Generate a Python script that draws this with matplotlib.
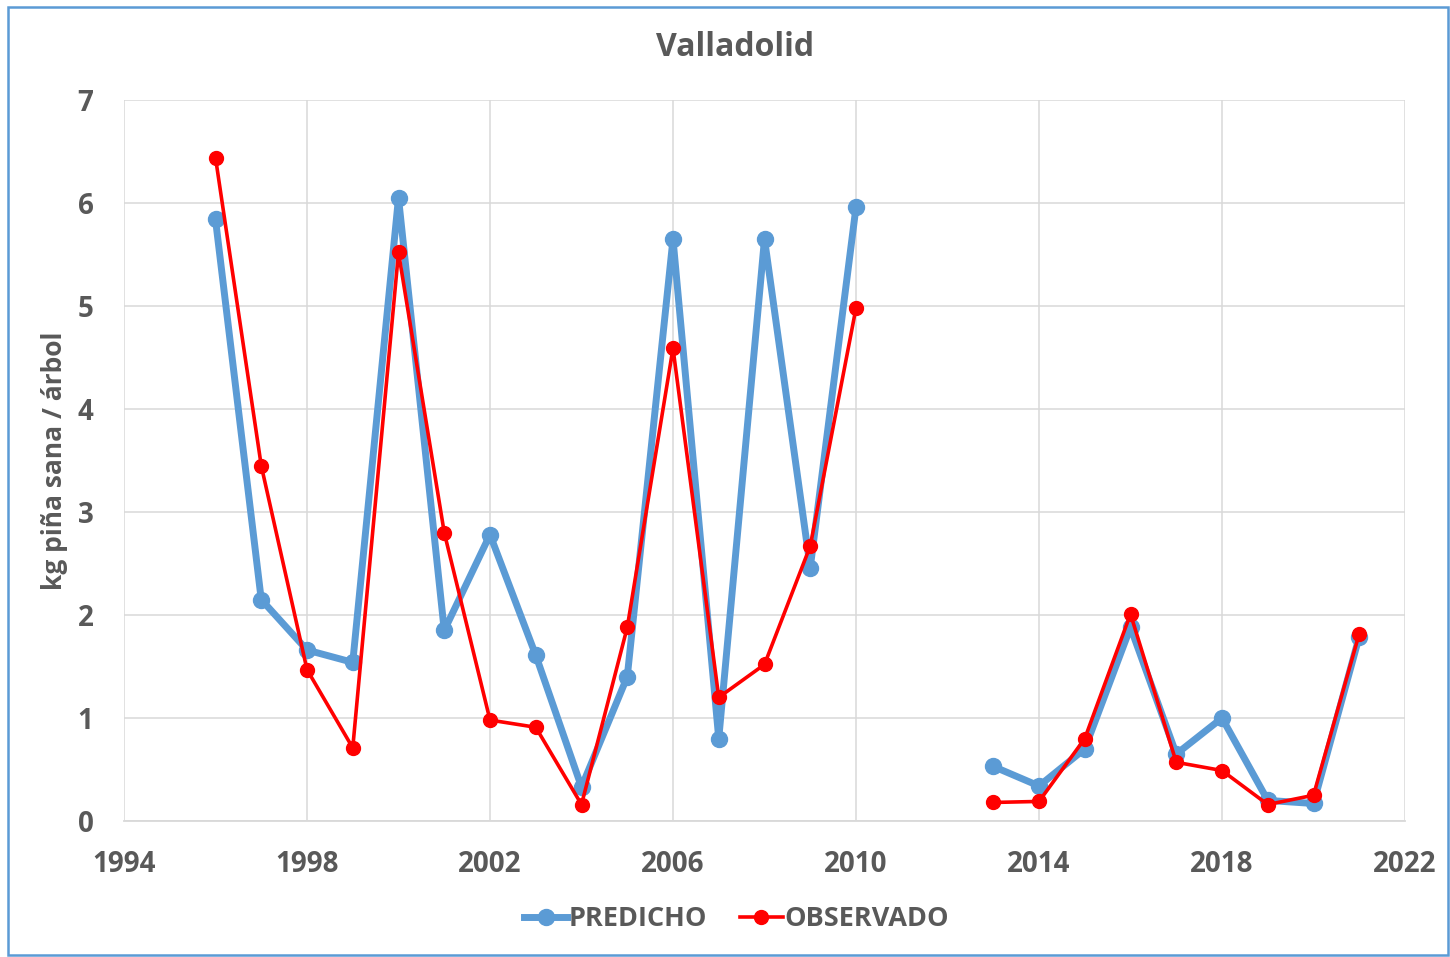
import numpy as np
import matplotlib
matplotlib.use("Agg")
import matplotlib.pyplot as plt
from matplotlib.patches import Rectangle

years = [1996, 1997, 1998, 1999, 2000, 2001, 2002, 2003, 2004, 2005, 2006, 2007, 2008, 2009, 2010,
         2011, 2012, 2013, 2014, 2015, 2016, 2017, 2018, 2019, 2020, 2021]
predicho = [5.84, 2.15, 1.66, 1.54, 6.05, 1.85, 2.78, 1.61, 0.33, 1.40, 5.65, 0.80, 5.65, 2.46, 5.96,
            np.nan, np.nan, 0.53, 0.34, 0.70, 1.88, 0.65, 1.00, 0.20, 0.17, 1.79]
observado = [6.44, 3.45, 1.47, 0.71, 5.52, 2.80, 0.98, 0.91, 0.16, 1.88, 4.59, 1.20, 1.52, 2.67, 4.98,
             np.nan, np.nan, 0.18, 0.19, 0.80, 2.01, 0.57, 0.49, 0.16, 0.25, 1.82]
xticks = [1994, 1998, 2002, 2006, 2010, 2014, 2018, 2022]
yticks = [0, 1, 2, 3, 4, 5, 6, 7]

plt.rcParams['font.family'] = ['Open Sans', 'DejaVu Sans']
txt = '#595959'

fig = plt.figure(figsize=(14.5, 9.57), dpi=100)
ax = fig.add_axes([124/1450, 1-821/957, 1281/1450, 721/957])

ax.plot(years, predicho, color='#5B9BD5', lw=5, marker='o', ms=11.5, label='PREDICHO', zorder=3)
ax.plot(years, observado, color='#FF0000', lw=2.6, marker='o', ms=10, label='OBSERVADO', zorder=4)

ax.set_xlim(1994, 2022)
ax.set_ylim(0, 7)
ax.set_xticks(xticks)
ax.set_yticks(yticks)
ax.grid(True, color='#D9D9D9', lw=1.1)
ax.set_axisbelow(True)
for s in ['top', 'right', 'left']:
    ax.spines[s].set_visible(False)
ax.spines['bottom'].set_color('#D9D9D9')
ax.spines['bottom'].set_linewidth(1.3)
ax.tick_params(axis='both', length=0, labelsize=20, labelcolor=txt)
ax.tick_params(axis='x', pad=21)
ax.tick_params(axis='y', pad=22)
for lab in ax.get_xticklabels() + ax.get_yticklabels():
    lab.set_fontweight('bold')

ax.set_ylabel('kg piña sana / árbol', fontsize=19, fontweight='bold', color=txt)
ax.yaxis.set_label_coords((68-124)/1281, 0.5)
fig.text(0.507, 1-47/957, 'Valladolid', ha='center', va='center', fontsize=23, fontweight='bold', color=txt)

leg = fig.legend(loc='center', bbox_to_anchor=(0.508, 1-919/957), ncol=2, frameon=False,
                 fontsize=19.5, handlelength=1.6, handletextpad=0.05, columnspacing=1.2)
for t in leg.get_texts():
    t.set_color(txt)
    t.set_fontweight('bold')

fig.patches.append(Rectangle((8/1450, 2/957), 1440/1450, 948/957, transform=fig.transFigure,
                             fill=False, edgecolor='#5B9BD5', lw=1.8))

fig.savefig('out.png', dpi=100)
